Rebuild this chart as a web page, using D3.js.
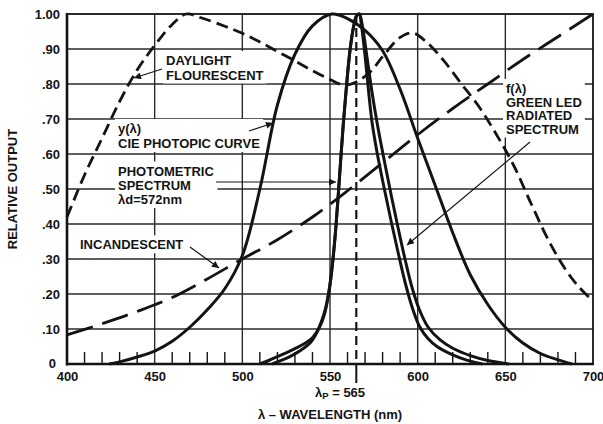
<!DOCTYPE html>
<html><head><meta charset="utf-8">
<script src="https://cdn.jsdelivr.net/npm/d3@7"></script>
<style>
body{margin:0;background:#fff}
svg{display:block}
text{font-family:"Liberation Sans",Arial,Helvetica,sans-serif;font-weight:bold;fill:#141414}
</style>
</head><body>
<svg id="c" width="603" height="424"></svg>
<script>
// ---------- data ----------
const xTickValues = [400, 450, 500, 550, 600, 650, 700];
const xTickLabels = ["400", "450", "500", "550", "600", "650", "700"];
const yTickValues = [0, 0.1, 0.2, 0.3, 0.4, 0.5, 0.6, 0.7, 0.8, 0.9, 1.0];
const yTickLabels = ["0", ".10", ".20", ".30", ".40", ".50", ".60", ".70", ".80", ".90", "1.00"];
const peakWavelength = 565;

const daylightNm  = [400, 410, 420, 430, 440, 450, 460, 468, 476, 490, 500, 510, 520, 530, 540, 550, 558, 565, 573, 580, 590, 597, 605, 615, 625, 635, 645, 655, 665, 675, 685, 692, 700];
const daylightVal = [0.42, 0.54, 0.645, 0.75, 0.84, 0.91, 0.97, 1.0, 0.99, 0.965, 0.945, 0.92, 0.893, 0.866, 0.838, 0.813, 0.797, 0.806, 0.835, 0.878, 0.933, 0.946, 0.92, 0.866, 0.80, 0.735, 0.655, 0.565, 0.455, 0.35, 0.265, 0.22, 0.18];

const incandNm  = [400, 420, 440, 460, 480, 500, 520, 540, 560, 580, 600, 620, 640, 660, 680, 700];
const incandVal = [0.083, 0.115, 0.150, 0.19, 0.243, 0.30, 0.355, 0.42, 0.495, 0.575, 0.655, 0.73, 0.80, 0.87, 0.935, 1.0];

const cieNm  = [424, 430, 440, 450, 460, 470, 480, 490, 500, 510, 520, 530, 540, 551, 560, 570, 580, 590, 600, 610, 620, 630, 640, 650, 660, 670, 680, 688];
const cieVal = [0, 0.006, 0.02, 0.037, 0.065, 0.105, 0.155, 0.215, 0.31, 0.50, 0.74, 0.885, 0.966, 1.0, 0.987, 0.953, 0.895, 0.785, 0.645, 0.51, 0.375, 0.255, 0.17, 0.105, 0.06, 0.03, 0.012, 0];

const ledRadiatedNm  = [510, 515, 520, 525, 530, 535, 540, 544, 547, 549.5, 551.5, 553.5, 555.5, 557.5, 559.5, 561.5, 563.5, 565.2, 566.7, 568.5, 571, 574, 577, 581, 585, 589, 593, 597, 601, 606, 613, 620, 630, 640, 652];
const ledRadiatedVal = [0, 0.01, 0.021, 0.032, 0.044, 0.057, 0.075, 0.105, 0.145, 0.21, 0.29, 0.40, 0.54, 0.68, 0.80, 0.90, 0.965, 0.995, 1.0, 0.965, 0.88, 0.775, 0.685, 0.58, 0.48, 0.385, 0.295, 0.215, 0.155, 0.105, 0.068, 0.045, 0.024, 0.01, 0];

const ledPhotometricNm  = [517, 520, 525, 530, 535, 539, 542, 545, 547.5, 549.5, 551.5, 553.5, 555.5, 557.5, 559.5, 561.5, 563.5, 565.2, 566.7, 568, 570, 572, 574, 577, 581, 585, 589, 593, 597, 601, 606, 611, 620, 628, 637];
const ledPhotometricVal = [0, 0.006, 0.016, 0.029, 0.045, 0.062, 0.085, 0.12, 0.16, 0.21, 0.29, 0.40, 0.54, 0.68, 0.80, 0.90, 0.965, 0.995, 1.0, 0.965, 0.88, 0.78, 0.69, 0.60, 0.50, 0.405, 0.315, 0.23, 0.16, 0.108, 0.072, 0.05, 0.026, 0.011, 0];

// ---------- layout ----------
const svg = d3.select("#c");
const x = d3.scaleLinear().domain([400, 700]).range([67, 593]);
const y = d3.scaleLinear().domain([0, 1]).range([364, 14]);
const INK = "#141414";

svg.append("rect").attr("width", 603).attr("height", 424).attr("fill", "#fff");

svg.append("defs").append("marker")
  .attr("id", "ah").attr("viewBox", "0 0 10 10").attr("refX", 10).attr("refY", 5)
  .attr("markerWidth", 9).attr("markerHeight", 7).attr("markerUnits", "userSpaceOnUse")
  .attr("orient", "auto")
  .append("path").attr("d", "M0,0 L10,5 L0,10 Z").attr("fill", INK);

// grid
const grid = svg.append("g").attr("stroke", "#2a2a2a").attr("stroke-width", 1.4);
grid.selectAll("line.h").data(yTickValues.filter(v => v > 0 && v < 1)).join("line")
  .attr("x1", x(400)).attr("x2", x(700)).attr("y1", d => y(d)).attr("y2", d => y(d));
grid.selectAll("line.v").data(xTickValues.filter(v => v > 400 && v < 700)).join("line")
  .attr("y1", y(0)).attr("y2", y(1)).attr("x1", d => x(d)).attr("x2", d => x(d));

// minor ticks along the bottom
const minor = d3.range(410, 700, 10).filter(v => v % 50 !== 0);
svg.append("g").attr("stroke", INK).attr("stroke-width", 1.4)
  .selectAll("line").data(minor).join("line")
  .attr("x1", d => x(d)).attr("x2", d => x(d)).attr("y1", y(0)).attr("y2", y(0) - 12);

// labels with white boxes
function label(lines, lx, baselines) {
  const g = svg.append("g");
  const r = g.append("rect").attr("fill", "#fff");
  const t = g.append("text").attr("font-size", 13);
  lines.forEach((s, i) => {
    t.append("tspan").attr("x", lx).attr("y", baselines[i]).text(s);
  });
  const b = t.node().getBBox();
  r.attr("x", b.x - 3).attr("y", b.y - 2).attr("width", b.width + 6).attr("height", b.height + 3);
  return g;
}
label(["DAYLIGHT", "FLOURESCENT"], 166, [65, 79.5]);
label(["y(\u03bb)", "CIE PHOTOPIC CURVE"], 118, [133, 148]);
label(["PHOTOMETRIC", "SPECTRUM", "\u03bbd=572nm"], 118, [175.5, 189.5, 204]);
label(["INCANDESCENT"], 80, [249.3]);
label(["f(\u03bb)", "GREEN LED", "RADIATED", "SPECTRUM"], 506, [93, 106.5, 120, 133.5]);

// curves
const line = d3.line().x(d => x(d[0])).y(d => y(d[1])).curve(d3.curveCatmullRom.alpha(0.5));
const zipS = (a, b) => a.map((v, i) => [v, b[i]]);
const curves = svg.append("g").attr("fill", "none").attr("stroke", INK).attr("stroke-width", 3).attr("stroke-linejoin", "round");
curves.append("path").attr("d", line(zipS(incandNm, incandVal))).attr("stroke-dasharray", "27,10").attr("stroke-width", 2.8);
curves.append("path").attr("d", line(zipS(daylightNm, daylightVal))).attr("stroke-dasharray", "12,6").attr("stroke-width", 2.8);
curves.append("path").attr("d", line(zipS(cieNm, cieVal)));
curves.append("path").attr("d", line(zipS(ledRadiatedNm, ledRadiatedVal)));
curves.append("path").attr("d", line(zipS(ledPhotometricNm, ledPhotometricVal)));

// peak wavelength marker
svg.append("line").attr("x1", x(peakWavelength)).attr("x2", x(peakWavelength))
  .attr("y1", y(1)).attr("y2", y(0)).attr("stroke", INK).attr("stroke-width", 2.2).attr("stroke-dasharray", "9,5");
svg.append("line").attr("x1", x(peakWavelength)).attr("x2", x(peakWavelength))
  .attr("y1", y(0)).attr("y2", y(0) + 19).attr("stroke", INK).attr("stroke-width", 2);

// arrows
const arrows = [
  [162, 69, 134, 78],
  [249, 131, 273, 123],
  [216, 182, 336, 182],
  [190, 247, 219, 268],
  [530, 142, 407, 245]
];
svg.append("g").attr("stroke", INK).attr("stroke-width", 1.2)
  .selectAll("line").data(arrows).join("line")
  .attr("x1", d => d[0]).attr("y1", d => d[1]).attr("x2", d => d[2]).attr("y2", d => d[3])
  .attr("marker-end", "url(#ah)");

// frame
svg.append("rect").attr("x", x(400)).attr("y", y(1)).attr("width", x(700) - x(400)).attr("height", y(0) - y(1))
  .attr("fill", "none").attr("stroke", INK).attr("stroke-width", 1.8);
svg.append("line").attr("x1", x(400)).attr("x2", x(400)).attr("y1", y(1) - 1).attr("y2", y(0) + 1.5).attr("stroke", INK).attr("stroke-width", 2.6);
svg.append("line").attr("x1", x(400) - 1).attr("x2", x(700) + 1).attr("y1", y(0)).attr("y2", y(0)).attr("stroke", INK).attr("stroke-width", 2.6);

// tick labels via axes
const xAxis = d3.axisBottom(x).tickValues(xTickValues).tickFormat((d, i) => xTickLabels[i]).tickSize(0).tickPadding(0);
const gx = svg.append("g").attr("transform", `translate(0,${y(0)})`).call(xAxis);
gx.select(".domain").remove();
gx.selectAll("text").attr("font-size", 13).attr("font-family", null).attr("fill", INK).attr("dy", null).attr("y", 17);

const yAxis = d3.axisLeft(y).tickValues(yTickValues).tickFormat((d, i) => yTickLabels[i]).tickSize(0).tickPadding(0);
const gy = svg.append("g").attr("transform", `translate(60,0)`).call(yAxis);
gy.select(".domain").remove();
gy.selectAll("text").attr("font-size", 13).attr("font-family", null).attr("fill", INK).attr("dy", "0.36em");
gy.selectAll(".tick").filter(d => d === 0).select("text").attr("x", -4).attr("dy", "0.25em");

// axis titles
const lp = svg.append("text").attr("x", 315).attr("y", 396.5).attr("font-size", 13);
lp.append("tspan").text("\u03bb");
lp.append("tspan").attr("font-size", 9.5).attr("dy", 2.5).text("P");
lp.append("tspan").attr("dy", -2.5).text(" = " + peakWavelength);

svg.append("text").attr("x", 330).attr("y", 419).attr("text-anchor", "middle").attr("font-size", 13)
  .text("\u03bb \u2013 WAVELENGTH (nm)");
svg.append("text").attr("transform", "translate(17,189) rotate(-90)").attr("text-anchor", "middle")
  .attr("font-size", 13).text("RELATIVE OUTPUT");
</script>
</body></html>
